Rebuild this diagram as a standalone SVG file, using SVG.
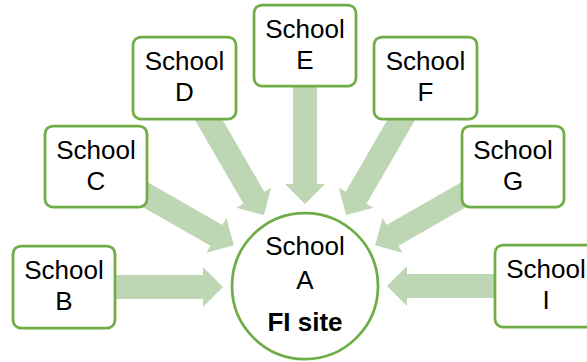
<svg xmlns="http://www.w3.org/2000/svg" width="587" height="362" viewBox="0 0 587 362">
<defs>
<style>
.box{fill:#ffffff;stroke:#70AD47;stroke-width:2.75}
.arr{fill:#BDD6B3}
.t{font-family:"Liberation Sans",Arial,sans-serif;font-size:26px;fill:#000000;text-anchor:middle}
.b{font-weight:bold}
</style>
</defs>
<rect width="587" height="362" fill="#ffffff"/>
<g id="connectors">
<path class="arr" transform="translate(64,287) rotate(0)" d="M0,-12 H139 V-20 L159,0 L139,20 V12 H0 Z"/>
<path class="arr" transform="translate(96,166.5) rotate(29.76)" d="M0,-12 H138.75 V-20 L158.75,0 L138.75,20 V12 H0 Z"/>
<path class="arr" transform="translate(184.5,78) rotate(59.92)" d="M0,-12 H138.4 V-20 L158.4,0 L138.4,20 V12 H0 Z"/>
<path class="arr" transform="translate(305,45.5) rotate(90)" d="M0,-12 H138.5 V-20 L158.5,0 L138.5,20 V12 H0 Z"/>
<path class="arr" transform="translate(425.5,78) rotate(120.08)" d="M0,-12 H138.4 V-20 L158.4,0 L138.4,20 V12 H0 Z"/>
<path class="arr" transform="translate(513,166.5) rotate(150.24)" d="M0,-12 H138.75 V-20 L158.75,0 L138.75,20 V12 H0 Z"/>
<path class="arr" transform="translate(546,286) rotate(180)" d="M0,-12 H139 V-20 L159,0 L139,20 V12 H0 Z"/>
</g>
<g id="nodeA">
<circle class="box" cx="305" cy="286" r="73"/>
<text class="t" x="305" y="255">School</text>
<text class="t" x="305" y="289">A</text>
<text class="t b" x="305" y="331">FI site</text>
</g>
<g id="nodeB">
<rect class="box" x="13" y="246" width="102" height="82" rx="8"/>
<text class="t" x="64" y="279">School</text>
<text class="t" x="64" y="310">B</text>
</g>
<g id="nodeC">
<rect class="box" x="45" y="126" width="102" height="81" rx="8"/>
<text class="t" x="96" y="159">School</text>
<text class="t" x="96" y="190">C</text>
</g>
<g id="nodeD">
<rect class="box" x="133" y="37" width="103" height="82" rx="8"/>
<text class="t" x="184.5" y="70">School</text>
<text class="t" x="184.5" y="101">D</text>
</g>
<g id="nodeE">
<rect class="box" x="254" y="5" width="102" height="81" rx="8"/>
<text class="t" x="305" y="38">School</text>
<text class="t" x="305" y="69">E</text>
</g>
<g id="nodeF">
<rect class="box" x="374" y="37" width="103" height="82" rx="8"/>
<text class="t" x="425.5" y="70">School</text>
<text class="t" x="425.5" y="101">F</text>
</g>
<g id="nodeG">
<rect class="box" x="462" y="126" width="102" height="81" rx="8"/>
<text class="t" x="513" y="159">School</text>
<text class="t" x="513" y="190">G</text>
</g>
<g id="nodeI">
<rect class="box" x="495" y="245" width="102" height="82" rx="8"/>
<text class="t" x="546" y="278">School</text>
<text class="t" x="546" y="309">I</text>
</g>
</svg>
